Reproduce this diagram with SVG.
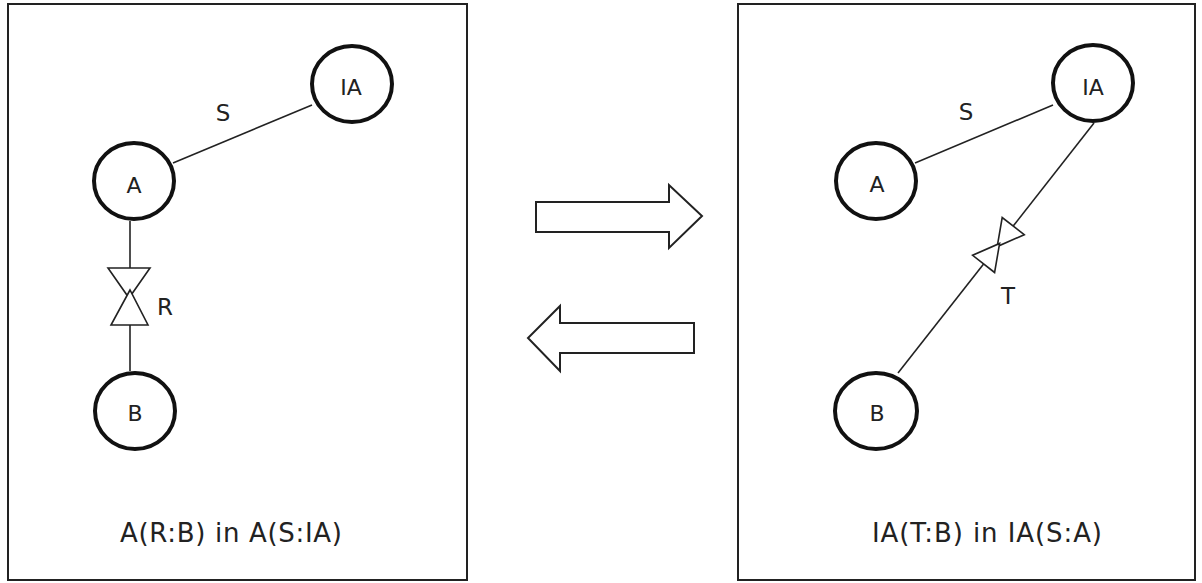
<svg xmlns="http://www.w3.org/2000/svg" width="1202" height="583" viewBox="0 0 1202 583">
<style>
.panel{fill:none;stroke:#222;stroke-width:2}
.node ellipse{fill:#fff;stroke:#111;stroke-width:4}
.node text,.lbl,.cap{font-family:"DejaVu Sans","Liberation Sans",sans-serif;fill:#222;text-anchor:middle}
.node text{font-size:22px}
.lbl{font-size:23px}
.cap{font-size:26px}
.edge{stroke:#222;stroke-width:1.6;fill:none}
.tie{fill:#fff;stroke:#222;stroke-width:1.6;stroke-linejoin:miter}
.big{fill:#fff;stroke:#222;stroke-width:2}
</style>
<rect width="1202" height="583" fill="#fff"/>
<rect class="panel" x="8" y="4" width="459" height="576"/>
<rect class="panel" x="738" y="4" width="457" height="576"/>

<g id="connectors">
  <line class="edge" x1="173" y1="163" x2="312" y2="105"/>
  <line class="edge" x1="130" y1="221" x2="130" y2="268"/>
  <line class="edge" x1="130" y1="325" x2="130" y2="371"/>
  <polygon class="tie" points="108,268 150,268 129,298"/>
  <polygon class="tie" points="130,290 111,325 148,325"/>
  <line class="edge" x1="915" y1="163" x2="1053" y2="105"/>
  <line class="edge" x1="1094" y1="123" x2="1013.2" y2="226.1"/>
  <line class="edge" x1="983.6" y1="263.9" x2="898" y2="373"/>
  <polygon class="tie" points="1024.2,234.7 1002.2,217.5 997.2,246.6"/>
  <polygon class="tie" points="994.6,272.5 972.6,255.3 999.6,243.4"/>
  <text class="lbl" x="223" y="121">S</text>
  <text class="lbl" x="165" y="315">R</text>
  <text class="lbl" x="966" y="120">S</text>
  <text class="lbl" x="1008" y="304">T</text>
</g>

<g id="left-A" class="node"><ellipse cx="134" cy="181" rx="40" ry="38"/><text x="134" y="193">A</text></g>
<g id="left-B" class="node"><ellipse cx="135" cy="411" rx="40" ry="38"/><text x="135" y="421">B</text></g>
<g id="left-IA" class="node"><ellipse cx="352" cy="84" rx="40" ry="38"/><text x="351" y="95">IA</text></g>

<g id="right-A" class="node"><ellipse cx="876" cy="181" rx="40" ry="38"/><text x="877" y="192">A</text></g>
<g id="right-B" class="node"><ellipse cx="876" cy="411" rx="41" ry="38"/><text x="877" y="421">B</text></g>
<g id="right-IA" class="node"><ellipse cx="1093" cy="83" rx="40" ry="38"/><text x="1093" y="95">IA</text></g>

<g id="transform-arrows">
  <polygon class="big" points="536,202 669,202 669,185 702,216 669,248 669,232 536,232"/>
  <polygon class="big" points="694,323 560,323 560,306 528,338 560,371 560,353 694,353"/>
</g>

<text class="cap" x="231" y="542" textLength="222" lengthAdjust="spacing">A(R:B) in A(S:IA)</text>
<text class="cap" x="987" y="542" textLength="230" lengthAdjust="spacing">IA(T:B) in IA(S:A)</text>
</svg>
